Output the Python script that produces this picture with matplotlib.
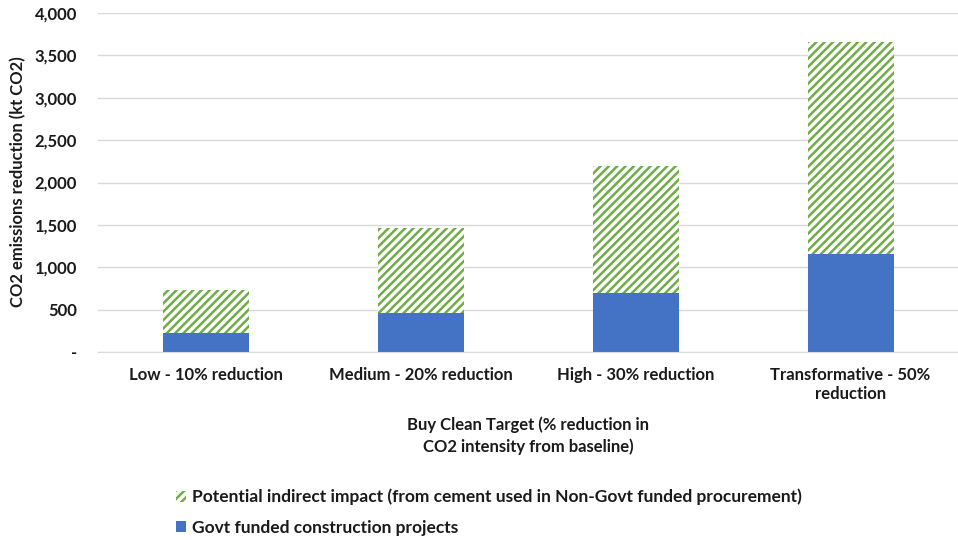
import numpy as np
import matplotlib
matplotlib.use("Agg")
import matplotlib.pyplot as plt
from matplotlib.patches import Patch
from matplotlib.ticker import FuncFormatter

categories = ["Low - 10% reduction", "Medium - 20% reduction",
              "High - 30% reduction", "Transformative - 50%\nreduction"]
govt_funded = [230, 460, 700, 1160]
indirect = [500, 1000, 1490, 2500]

legend_labels = ["Potential indirect impact (from cement used in Non-Govt funded procurement)",
                 "Govt funded construction projects"]
x_title = "Buy Clean Target (% reduction in\nCO2 intensity from baseline)"
y_title = "CO2 emissions reduction (kt CO2)"

BLUE = "#4472C4"
GREEN = "#70AD47"
TXT = "#1a1a1a"

plt.rcParams["font.family"] = ["Lato", "DejaVu Sans"]
plt.rcParams["font.weight"] = "bold"
plt.rcParams["hatch.linewidth"] = 1.8

fig = plt.figure(figsize=(9.58, 5.4), dpi=100)
ax = fig.add_axes([98 / 958, 1 - 352 / 540, 860 / 958, 339 / 540])

x = np.arange(len(categories))
ax.bar(x, govt_funded, width=0.4, color=BLUE, linewidth=0, zorder=2)
ax.bar(x, indirect, width=0.4, bottom=govt_funded, facecolor="white",
       edgecolor=GREEN, hatch="////", linewidth=0, zorder=2)

ax.set_xlim(-0.5, len(categories) - 0.5)
ax.set_ylim(0, 4000)
ax.set_yticks(np.arange(0, 4001, 500))
ax.yaxis.set_major_formatter(FuncFormatter(lambda v, p: "-" if v == 0 else f"{int(v):,}"))
ax.set_xticks(x)
ax.set_xticklabels(categories, fontsize=12, fontweight="bold", color=TXT, linespacing=1.2)
ax.tick_params(axis="x", length=0, pad=11)
ax.tick_params(axis="y", length=0, pad=15, labelsize=12, labelcolor=TXT)
for lab in ax.get_yticklabels():
    lab.set_fontweight("bold")

ax.grid(axis="y", color="#D9D9D9", linewidth=1)
ax.set_axisbelow(True)
for s in ["top", "right", "left"]:
    ax.spines[s].set_visible(False)
ax.spines["bottom"].set_color("#D9D9D9")

fig.text(528 / 958, 1 - 436 / 540, x_title, ha="center", va="center",
         fontsize=12, fontweight="bold", color=TXT, linespacing=1.4)
fig.text(18 / 958, 1 - 182 / 540, y_title, ha="center", va="center",
         rotation=90, fontsize=12, fontweight="bold", color=TXT)

handles = [Patch(facecolor="white", edgecolor=GREEN, hatch="////", linewidth=0),
           Patch(facecolor=BLUE, linewidth=0)]
fig.legend(handles, legend_labels, loc="upper left",
           bbox_to_anchor=(160 / 958, 1 - 473 / 540), frameon=False,
           prop={"size": 12.5, "weight": "bold"}, handlelength=0.6, handleheight=0.6,
           handletextpad=0.35, labelspacing=0.85, labelcolor=TXT)

fig.savefig("out.png", dpi=100)
